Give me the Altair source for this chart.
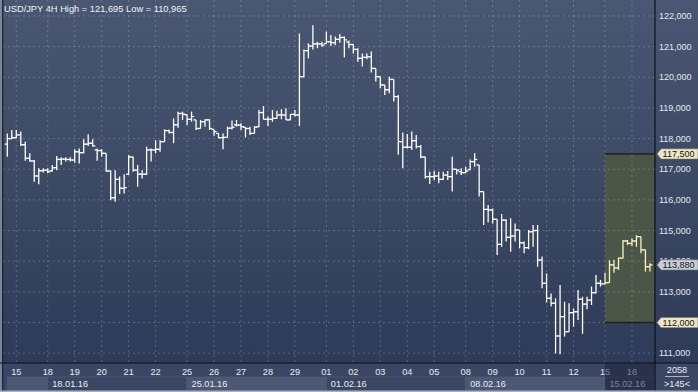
import altair as alt
import pandas as pd

# ---------------- data ----------------
symbol = "USD/JPY"
timeframe = "4H"

opens = [
    117.82, 118.00, 118.03, 118.12, 117.80, 117.36, 117.27, 116.78, 116.95, 116.97,
    116.95, 117.05, 117.32, 117.33, 117.32, 117.30, 117.57, 117.54, 117.82, 117.85,
    117.63, 117.61, 117.52, 116.94, 116.07, 116.67, 116.38, 116.84, 117.40, 116.97,
    116.84, 116.84, 117.63, 117.63, 117.65, 117.90, 118.26, 118.20, 118.45, 118.82,
    118.78, 118.63, 118.61, 118.33, 118.55, 118.61, 118.30, 118.17, 118.03, 118.04,
    118.34, 118.45, 118.44, 118.37, 118.33, 118.17, 118.39, 118.85, 118.63, 118.63,
    118.66, 118.77, 118.77, 118.61, 118.79, 118.77, 120.02, 120.87, 121.02, 121.09,
    121.09, 121.10, 121.16, 121.13, 121.24, 121.30, 121.15, 121.07, 120.91, 120.62,
    120.65, 120.67, 120.29, 120.02, 119.75, 119.59, 119.93, 119.37, 117.90, 117.72,
    117.72, 117.93, 117.74, 117.40, 116.76, 116.76, 116.78, 116.67, 116.81, 116.76,
    117.00, 116.92, 116.89, 116.99, 117.25, 117.14, 116.27, 115.69, 115.67, 115.37,
    114.55, 115.34, 114.78, 114.82, 115.02, 114.60, 114.44, 114.96, 115.00, 114.04,
    113.28, 112.79, 112.63, 111.56, 112.19, 111.70, 112.32, 112.35, 112.76, 112.60,
    112.73, 112.97, 113.28, 113.26, 113.30, 113.88, 113.78, 114.10, 114.66, 114.58,
    114.66, 114.80, 114.37, 113.82,
]
highs = [
    118.17, 118.28, 118.28, 118.23, 117.90, 117.52, 117.30, 117.03, 117.03, 117.03,
    117.14, 117.43, 117.39, 117.39, 117.39, 117.65, 117.68, 117.98, 118.14, 117.98,
    117.68, 117.65, 117.52, 116.97, 116.97, 116.76, 116.84, 117.47, 117.41, 117.14,
    116.97, 117.74, 117.68, 117.95, 117.95, 118.30, 118.30, 118.66, 118.88, 118.88,
    118.79, 118.88, 118.61, 118.61, 118.63, 118.63, 118.30, 118.17, 118.17, 118.39,
    118.59, 118.61, 118.50, 118.37, 118.39, 118.41, 118.93, 119.06, 118.72, 118.93,
    118.91, 118.96, 118.99, 118.80, 118.93, 121.43, 120.91, 121.11, 121.695, 121.16,
    121.16, 121.49, 121.38, 121.33, 121.41, 121.33, 121.20, 121.09, 120.95, 120.78,
    120.78, 120.84, 120.29, 120.02, 119.75, 120.02, 119.93, 119.42, 118.20, 118.15,
    118.23, 118.12, 117.79, 117.41, 116.92, 116.94, 116.92, 116.92, 116.94, 117.41,
    117.00, 117.03, 117.08, 117.32, 117.52, 117.14, 116.27, 115.83, 115.72, 115.37,
    115.54, 115.37, 115.40, 115.23, 115.02, 114.64, 115.02, 115.18, 115.18, 114.15,
    113.60, 112.95, 112.79, 113.22, 112.68, 112.63, 112.46, 113.06, 112.84, 112.84,
    113.17, 113.55, 113.39, 113.62, 114.03, 114.05, 114.12, 114.69, 114.69, 114.75,
    114.85, 114.80, 114.37, 113.93,
]
lows = [
    117.41, 117.98, 118.01, 117.76, 117.28, 117.25, 116.59, 116.51, 116.89, 116.87,
    116.92, 116.97, 117.14, 117.25, 117.25, 117.21, 117.19, 117.52, 117.76, 117.74,
    117.28, 117.41, 116.92, 115.99, 115.94, 116.19, 116.21, 116.81, 116.92, 116.43,
    116.70, 116.81, 117.25, 117.52, 117.57, 117.90, 118.17, 117.85, 118.35, 118.61,
    118.44, 118.55, 118.28, 118.33, 118.39, 118.28, 118.09, 118.01, 117.65, 118.04,
    118.30, 118.39, 118.28, 118.04, 118.12, 118.17, 118.37, 118.63, 118.41, 118.55,
    118.64, 118.63, 118.61, 118.60, 118.72, 118.41, 120.00, 120.62, 120.91, 120.95,
    121.00, 121.10, 121.02, 121.05, 121.13, 120.65, 120.95, 120.78, 120.51, 120.35,
    120.59, 120.16, 119.86, 119.64, 119.42, 119.48, 119.21, 117.47, 117.03, 117.68,
    117.63, 117.68, 117.36, 116.70, 116.52, 116.65, 116.54, 116.65, 116.65, 116.27,
    116.83, 116.81, 116.87, 116.97, 117.08, 116.11, 115.18, 115.26, 115.23, 114.20,
    114.47, 114.64, 114.31, 114.64, 114.42, 114.26, 114.39, 114.47, 113.82, 113.12,
    112.65, 112.52, 110.99, 110.965, 111.54, 111.70, 111.86, 112.08, 111.63, 112.43,
    112.57, 112.95, 113.17, 113.24, 113.30, 113.62, 113.72, 114.09, 114.53, 114.50,
    114.47, 114.26, 113.66, 113.66,
]
closes = [
    118.00, 118.03, 118.12, 117.80, 117.36, 117.27, 116.78, 116.95, 116.97, 116.92,
    117.05, 117.32, 117.33, 117.32, 117.30, 117.57, 117.54, 117.82, 117.85, 117.76,
    117.61, 117.52, 116.94, 116.07, 116.67, 116.38, 116.40, 117.40, 116.97, 116.84,
    116.84, 117.63, 117.63, 117.65, 117.90, 118.26, 118.20, 118.45, 118.82, 118.80,
    118.63, 118.72, 118.33, 118.55, 118.61, 118.33, 118.23, 118.03, 118.04, 118.34,
    118.37, 118.44, 118.39, 118.33, 118.17, 118.37, 118.85, 118.63, 118.63, 118.66,
    118.77, 118.77, 118.61, 118.79, 118.77, 120.02, 120.87, 121.02, 121.09, 121.09,
    121.05, 121.16, 121.13, 121.24, 121.30, 121.22, 121.07, 120.91, 120.62, 120.65,
    120.67, 120.29, 120.02, 119.75, 119.59, 119.93, 119.37, 117.90, 117.72, 117.72,
    117.93, 117.74, 117.40, 116.76, 116.76, 116.78, 116.67, 116.81, 116.76, 117.00,
    116.97, 116.89, 116.94, 117.25, 117.32, 116.27, 115.69, 115.67, 115.37, 114.55,
    115.34, 114.78, 114.82, 115.02, 114.60, 114.44, 114.96, 115.00, 114.04, 113.28,
    112.79, 112.63, 111.56, 112.19, 111.70, 112.32, 112.35, 112.76, 112.60, 112.73,
    112.97, 113.28, 113.26, 113.30, 113.88, 113.78, 114.10, 114.66, 114.58, 114.66,
    114.80, 114.37, 113.82, 113.88,
]

day_labels = ["15", "18", "19", "20", "21", "22", "25", "26", "27", "28", "29",
              "01", "02", "03", "04", "05", "08", "09", "10", "11", "12", "15", "16"]
day_start_bars = [2, 9, 15, 21, 27, 33, 40, 46, 52, 58, 64,
                  71, 77, 83, 89, 95, 102, 108, 114, 120, 126, 133, 139]
week_labels = ["", "18.01.16", "25.01.16", "01.02.16", "08.02.16", "15.02.16"]
week_start_bars = [0, 9, 40, 71, 102, 133]

price_ticks = [111, 112, 113, 114, 115, 116, 117, 118, 119, 120, 121, 122]
price_tick_labels = ["111,000", "112,000", "113,000", "114,000", "115,000", "116,000",
                     "117,000", "118,000", "119,000", "120,000", "121,000", "122,000"]

zone_top = 117.5
zone_bottom = 112.0
zone_labels = ["117,500", "112,000"]
last_price = 113.88
last_price_label = "113,880"
future_start_bar = 133
bar_total_label = "2058"
visible_bars_label = ">145<"

# ---------------- layout ----------------
W, H = 698, 392
X0, DX = 7.3, 4.494          # pixel of first bar, pixels per bar
PLOT_R, AXIS_TOP = 655, 363
PY_TOP, PX_PER_UNIT, TOP_VAL = 16, 30.65, 122

n = len(opens)
xscale = alt.Scale(domain=[-X0 / DX, (W - X0) / DX], nice=False, zero=False)
yscale = alt.Scale(domain=[TOP_VAL - (H - PY_TOP) / PX_PER_UNIT, TOP_VAL + PY_TOP / PX_PER_UNIT],
                   nice=False, zero=False)


def X(f):
    return alt.X(f, type="quantitative", scale=xscale, axis=None)


def Y(f):
    return alt.Y(f, type="quantitative", scale=yscale, axis=None)


FONT = "Liberation Sans"
one = pd.DataFrame({"k": [0]})

# background gradient
grad = alt.LinearGradient(
    gradient="linear",
    stops=[alt.GradientStop(color="#4a5772", offset=0),
           alt.GradientStop(color="#2c3956", offset=1)],
    x1=0, x2=0, y1=0, y2=1)
bg = alt.Chart(one).mark_rect(fill=grad).encode(
    x=alt.value(0), x2=alt.value(W), y=alt.value(0), y2=alt.value(H))

BAND = "#3b4762"
band = alt.Chart(one).mark_rect(fill=BAND).encode(
    x=alt.value(0), x2=alt.value(W), y=alt.value(AXIS_TOP), y2=alt.value(H))

# target zone
zone_df = pd.DataFrame({"s": [future_start_bar], "e": [n], "top": [zone_top], "bot": [zone_bottom]})
zone = alt.Chart(zone_df).mark_rect(fill="#4b5548").encode(
    x=X("s"), x2="e", y=Y("top"), y2="bot")
zone_edges_df = pd.DataFrame({"s": [future_start_bar] * 2, "e": [n] * 2, "v": [zone_top, zone_bottom]})
zone_edges = alt.Chart(zone_edges_df).mark_rule(color="#1b2419", strokeWidth=1.6).encode(
    x=X("s"), x2="e", y=Y("v"))

# grid
ygrid_df = pd.DataFrame({"v": price_ticks, "lab": price_tick_labels})
hgrid = alt.Chart(ygrid_df).mark_rule(color="#ffffff", opacity=0.2, strokeDash=[2, 3], strokeWidth=1).encode(
    y=Y("v"), x=alt.value(3), x2=alt.value(PLOT_R))
days_df = pd.DataFrame({"b": day_start_bars, "t": day_labels})
vgrid = alt.Chart(days_df).mark_rule(color="#ffffff", opacity=0.2, strokeDash=[2, 3], strokeWidth=1).encode(
    x=X("b"), y=alt.value(0), y2=alt.value(AXIS_TOP))

# OHLC bars
bars_df = pd.DataFrame({"i": list(range(n)), "o": opens, "h": highs, "l": lows, "c": closes})
bar_color = alt.condition(f"datum.i >= {future_start_bar}", alt.value("#fbf5c0"), alt.value("#ffffff"))
base = alt.Chart(bars_df)
stems = base.mark_rule(strokeWidth=1.3).encode(x=X("i"), y=Y("l"), y2="h", color=bar_color)
open_t = base.mark_rule(strokeWidth=1.3, xOffset=-2.6, x2Offset=0).encode(
    x=X("i"), x2="i", y=Y("o"), color=bar_color)
close_t = base.mark_rule(strokeWidth=1.3, xOffset=0, x2Offset=2.6).encode(
    x=X("i"), x2="i", y=Y("c"), color=bar_color)

# bottom axis band
week_df = pd.DataFrame({
    "s": week_start_bars,
    "e": week_start_bars[1:] + [n],
    "t": week_labels,
    "shade": [k % 2 for k in range(len(week_labels))],
})
week_boxes = alt.Chart(week_df).mark_rect(stroke="#56627c", strokeWidth=0.6).encode(
    x=X("s"), x2="e", y=alt.value(377), y2=alt.value(390.5),
    fill=alt.condition("datum.shade == 0", alt.value("#4c5873"), alt.value(BAND)))
week_text = alt.Chart(week_df).mark_text(align="left", baseline="middle", dx=4.5, fontSize=9.2,
                                         font=FONT, color="#e6ecf4").encode(
    x=X("s"), y=alt.value(383.8), text="t:N")
day_text = alt.Chart(days_df).mark_text(align="center", baseline="middle", fontSize=9.2,
                                        font=FONT, color="#e6ecf4").encode(
    x=X("b"), y=alt.value(372), text="t:N")
fut_df = pd.DataFrame({"s": [future_start_bar], "e": [n]})
future_shade = alt.Chart(fut_df).mark_rect(fill="#1a2236", opacity=0.54).encode(
    x=X("s"), x2="e", y=alt.value(AXIS_TOP), y2=alt.value(390.5))

# frame lines
frame_r = alt.Chart(one).mark_rule(color="#0c111c", strokeWidth=1.2).encode(
    x=alt.value(PLOT_R), y=alt.value(0), y2=alt.value(H))
frame_b = alt.Chart(one).mark_rule(color="#0c111c", strokeWidth=1.2).encode(
    x=alt.value(0), x2=alt.value(W), y=alt.value(AXIS_TOP))
frame_l_light = alt.Chart(one).mark_rect(fill="#7b8599").encode(
    x=alt.value(0), x2=alt.value(2), y=alt.value(0), y2=alt.value(H))
frame_l = alt.Chart(one).mark_rule(color="#121a2a", strokeWidth=1).encode(
    x=alt.value(2.8), y=alt.value(0), y2=alt.value(H))
frame_bottom = alt.Chart(one).mark_rect(fill="#a9b0bc").encode(
    x=alt.value(0), x2=alt.value(W), y=alt.value(390.6), y2=alt.value(H))

# right price labels (those hidden under a zone marker are left to the marker)
price_text = alt.Chart(ygrid_df).transform_filter(
    f"datum.v != {zone_top} && datum.v != {zone_bottom}"
).mark_text(align="left", baseline="middle", fontSize=9, font=FONT, color="#e2e8f2").encode(
    x=alt.value(659), y=Y("v"), text="lab:N")

# price markers
marker_path = "M -1 0 L -0.8 -0.25 L 1 -0.25 L 1 0.25 L -0.8 0.25 Z"
mark_df = pd.DataFrame({
    "v": [zone_top, zone_bottom, last_price],
    "lab": zone_labels + [last_price_label],
    "kind": ["zone", "zone", "last"],
})
markers = alt.Chart(mark_df).mark_point(shape=marker_path, size=1681, filled=True, opacity=1,
                                        stroke="#6f6d5c", strokeWidth=0.6).encode(
    x=alt.value(677.5), y=Y("v"),
    fill=alt.condition("datum.kind == 'zone'", alt.value("#eee7c6"), alt.value("#c6ccd8")))
marker_text = alt.Chart(mark_df).mark_text(align="center", baseline="middle", fontSize=9,
                                           font=FONT, color="#141414").encode(
    x=alt.value(678.5), y=Y("v"), text="lab:N")

# title
title_str = "{} {} High = {} Low = {}".format(
    symbol, timeframe,
    f"{max(highs):.3f}".replace(".", ","), f"{min(lows):.3f}".replace(".", ","))
title = alt.Chart(one).mark_text(align="left", baseline="middle", fontSize=9.3, font=FONT,
                                 color="#f2f4f8").encode(
    x=alt.value(4), y=alt.value(8.5), text=alt.value(title_str))

# bottom-right info
info_df = pd.DataFrame({"t": [bar_total_label, visible_bars_label], "y": [369.8, 384]})
info_text = alt.Chart(info_df).mark_text(align="center", baseline="middle", fontSize=9.2,
                                         font=FONT, color="#e6ecf4").encode(
    x=alt.value(677), y=alt.Y("y:Q", scale=None, axis=None), text="t:N")
info_line = alt.Chart(one).mark_rule(color="#c8d0dc", strokeWidth=0.8).encode(
    x=alt.value(665), x2=alt.value(689), y=alt.value(376.5))

chart = alt.layer(
    bg, band, zone, hgrid, vgrid, zone_edges,
    stems, open_t, close_t,
    week_boxes, day_text, week_text, future_shade,
    frame_l_light, frame_l, frame_r, frame_b, frame_bottom,
    price_text, markers, marker_text, title, info_text, info_line,
).properties(
    width=W, height=H, padding=0, autosize=alt.AutoSizeParams(type="none"), background="#2c3956"
).configure_view(strokeWidth=0)

chart.save("out.html", embed_options={"renderer": "svg", "actions": False})
